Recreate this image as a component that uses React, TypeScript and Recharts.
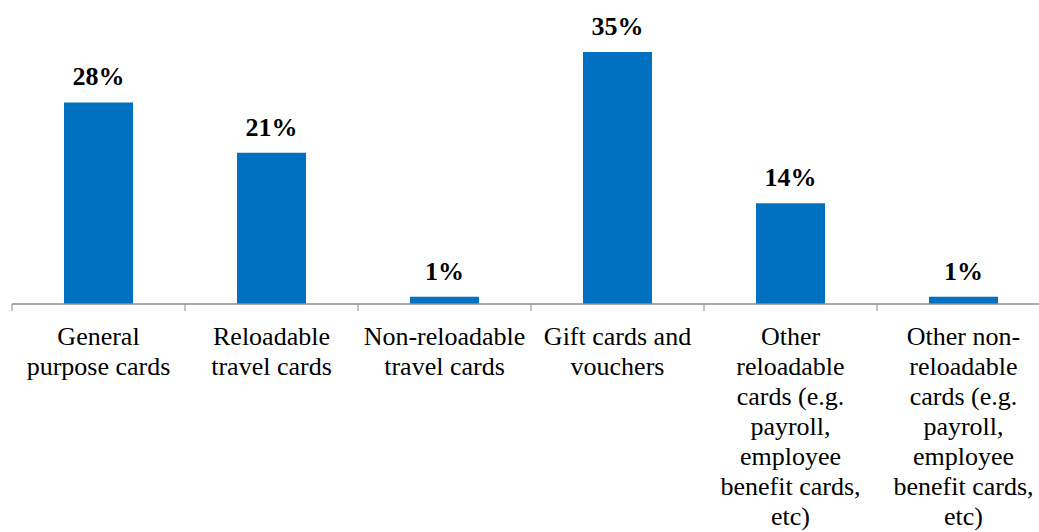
import React from "react";
import { Bar, BarChart, LabelList, XAxis, YAxis } from "recharts";

const categories = [
  "General purpose cards",
  "Reloadable travel cards",
  "Non-reloadable travel cards",
  "Gift cards and vouchers",
  "Other reloadable cards",
  "Other non-reloadable cards",
];

const shares = [28, 21, 1, 35, 14, 1];

// tick labels as they wrap in the picture
const tickLines = [
  ["General", "purpose cards"],
  ["Reloadable", "travel cards"],
  ["Non-reloadable", "travel cards"],
  ["Gift cards and", "vouchers"],
  ["Other", "reloadable", "cards (e.g.", "payroll,", "employee", "benefit cards,", "etc)"],
  ["Other non-", "reloadable", "cards (e.g.", "payroll,", "employee", "benefit cards,", "etc)"],
];

const data = categories.map((name, i) => ({ name, value: shares[i] }));

const FONT = '"Liberation Serif", "Times New Roman", serif';
const AXIS = "#8c8c8c";

function CategoryTick(props: any) {
  const { x, y, payload, index } = props;
  const half = payload?.offset || 86.5;
  const lines = tickLines[index] || [payload.value];
  return (
    <g>
      <line x1={x - half} y1={y} x2={x - half} y2={y + 7} stroke={AXIS} strokeWidth={1} />
      <text x={x} y={y} textAnchor="middle" fontFamily={FONT} fontSize={26} fill="#000">
        {lines.map((l: string, i: number) => (
          <tspan key={i} x={x} y={y + 41 + i * 30}>
            {l}
          </tspan>
        ))}
      </text>
    </g>
  );
}

function PctLabel(props: any) {
  const { x, y, width, value } = props;
  return (
    <text
      x={x + width / 2}
      y={y - 17}
      textAnchor="middle"
      fontFamily={FONT}
      fontSize={26}
      fontWeight="bold"
      fill="#000"
    >
      {value}%
    </text>
  );
}

export default function App() {
  return (
    <div
      style={{
        position: "absolute",
        left: 0,
        top: 0,
        width: 1039,
        height: 532,
        overflow: "hidden",
        background: "#fff",
      }}
    >
      <BarChart
        width={1060}
        height={532}
        data={data}
        margin={{ top: 52, right: 10, bottom: 0, left: 12 }}
      >
        <XAxis
          dataKey="name"
          axisLine={{ stroke: AXIS, strokeWidth: 1.5 }}
          tickLine={false}
          tickSize={0}
          tickMargin={0}
          height={228}
          interval={0}
          tick={<CategoryTick />}
        />
        <YAxis hide domain={[0, 35]} />
        <Bar dataKey="value" fill="#0070C0" barSize={69} isAnimationActive={false}>
          <LabelList dataKey="value" content={<PctLabel />} />
        </Bar>
      </BarChart>
    </div>
  );
}
